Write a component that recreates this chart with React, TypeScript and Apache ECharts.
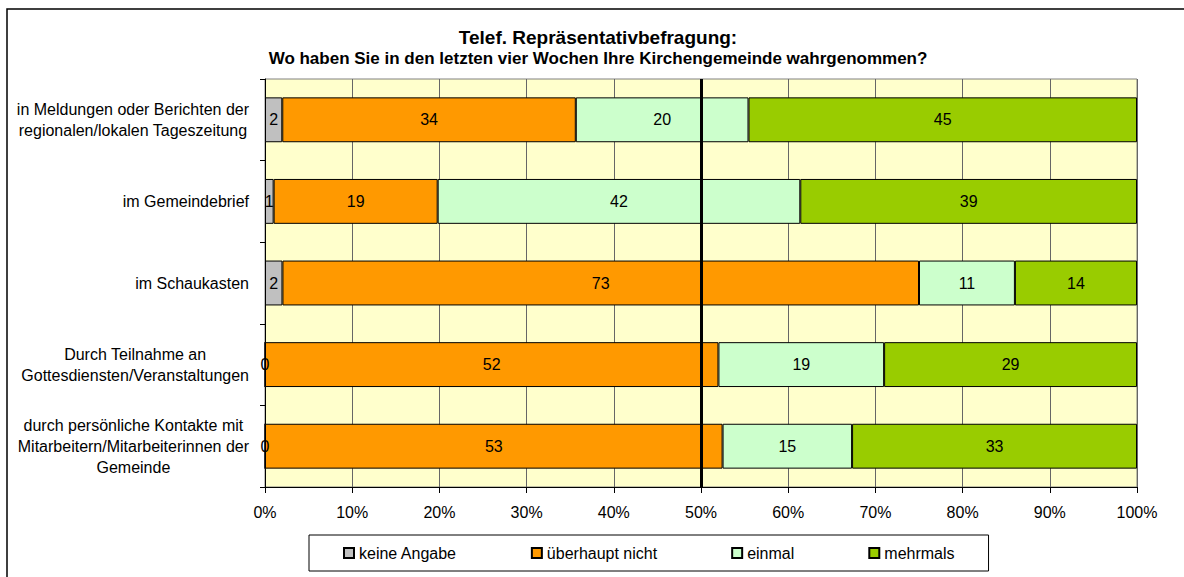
import React, { useEffect, useRef } from 'react';
import * as echarts from 'echarts';

const categories = [
  'in Meldungen oder Berichten der\nregionalen/lokalen Tageszeitung',
  'im Gemeindebrief',
  'im Schaukasten',
  'Durch Teilnahme an\nGottesdiensten/Veranstaltungen',
  'durch persönliche Kontakte mit\nMitarbeitern/Mitarbeiterinnen der\nGemeinde',
];
const seriesNames = ['keine Angabe', 'überhaupt nicht', 'einmal', 'mehrmals'];
const keineAngabe = [2, 1, 2, 0, 0];
const ueberhauptNicht = [34, 19, 73, 52, 53];
const einmal = [20, 42, 11, 19, 15];
const mehrmals = [45, 39, 14, 29, 33];
const seriesColors = ['#C0C0C0', '#FF9900', '#CCFFCC', '#99CC00'];
const titleText = 'Telef. Repräsentativbefragung:';
const subtitleText = 'Wo haben Sie in den letzten vier Wochen Ihre Kirchengemeinde wahrgenommen?';

const FONT = "'Liberation Sans', Arial, Helvetica, sans-serif";

export default function App() {
  const ref = useRef<HTMLDivElement>(null);

  useEffect(() => {
    document.body.style.margin = '0';
    if (!ref.current) return;
    const chart = echarts.init(ref.current, undefined, { renderer: 'svg' });

    const raw = [keineAngabe, ueberhauptNicht, einmal, mehrmals];
    const totals = categories.map((_, i) => raw.reduce((s, arr) => s + arr[i], 0));

    const series: any[] = raw.map((arr, si) => ({
      name: seriesNames[si],
      type: 'bar',
      stack: 'total',
      barWidth: '55%',
      data: arr.map((v, i) => (v / totals[i]) * 100),
      itemStyle: { color: seriesColors[si], borderColor: '#000', borderWidth: 1 },
      label: {
        show: true,
        position: 'inside',
        color: '#000',
        fontSize: 16,
        fontFamily: FONT,
        formatter: (p: any) => String(arr[p.dataIndex]),
      },
      emphasis: { disabled: true },
    }));

    series[series.length - 1].markLine = {
      silent: true,
      symbol: ['none', 'none'],
      label: { show: false },
      lineStyle: { color: '#000', width: 3, type: 'solid' },
      data: [{ xAxis: 50 }],
      z: 10,
    };

    chart.setOption({
      animation: false,
      textStyle: { fontFamily: FONT },
      graphic: [
        {
          type: 'rect',
          shape: { x: 7, y: 9, width: 1200, height: 620 },
          style: { fill: 'none', stroke: '#000', lineWidth: 1.5 },
          silent: true,
        },
      ],
      title: [
        {
          text: titleText,
          left: 598,
          top: 28,
          textAlign: 'center',
          padding: 0,
          textStyle: { fontSize: 19, fontWeight: 'bold', color: '#000', fontFamily: FONT, lineHeight: 19 },
        },
        {
          text: subtitleText,
          left: 598,
          top: 50,
          textAlign: 'center',
          padding: 0,
          textStyle: { fontSize: 17, fontWeight: 'bold', color: '#000', fontFamily: FONT, lineHeight: 17 },
        },
      ],
      legend: {
        left: 309,
        top: 535,
        padding: [9, 34],
        itemGap: 74,
        itemWidth: 10,
        itemHeight: 10,
        icon: 'rect',
        borderColor: '#000',
        borderWidth: 1,
        selectedMode: false,
        textStyle: { fontSize: 16, color: '#000', fontFamily: FONT, lineHeight: 18 },
        data: seriesNames,
      },
      grid: {
        left: 265,
        right: 47,
        top: 79,
        bottom: 90,
        show: true,
        backgroundColor: '#FFFFCC',
        borderColor: '#808080',
        borderWidth: 1,
      },
      xAxis: {
        type: 'value',
        min: 0,
        max: 100,
        interval: 10,
        axisLine: { show: true, lineStyle: { color: '#000' } },
        axisTick: { show: true, length: 6, lineStyle: { color: '#000' } },
        axisLabel: {
          formatter: '{value}%',
          fontSize: 16,
          color: '#000',
          margin: 17,
          fontFamily: FONT,
        },
        splitLine: { show: true, lineStyle: { color: '#666', width: 1 } },
      },
      yAxis: {
        type: 'category',
        inverse: true,
        data: categories,
        axisLine: { show: true, lineStyle: { color: '#000' } },
        axisTick: { show: true, length: 5, lineStyle: { color: '#000' } },
        axisLabel: {
          margin: 16,
          color: '#000',
          formatter: (v: string) => v.split('\n').map((l) => `{c|${l}}`).join('\n'),
          rich: {
            c: { align: 'center', fontSize: 16, lineHeight: 21, color: '#000', fontFamily: FONT },
          },
        },
        splitLine: { show: false },
      },
      series,
    });

    return () => chart.dispose();
  }, []);

  return <div ref={ref} style={{ width: 1184, height: 577 }} />;
}
